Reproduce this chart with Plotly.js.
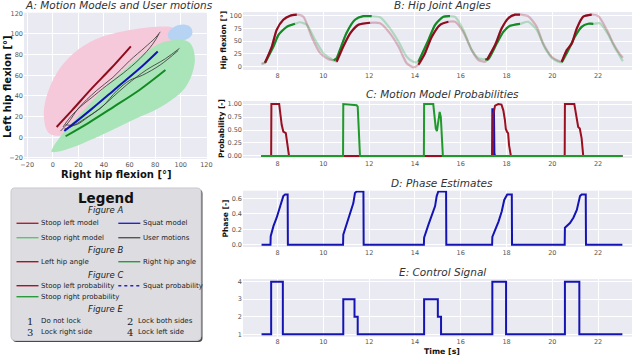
<!DOCTYPE html>
<html>
<head>
<meta charset="utf-8">
<script src="https://cdn.plot.ly/plotly-3.0.1.min.js"></script>
<style>
  html, body { margin: 0; padding: 0; background: #fff; }
  #chart { width: 640px; height: 357px; }
</style>
</head>
<body>
<div id="chart"></div>
<script>
// ---- A: motion model regions and trajectories (right hip on x, left hip on y) ----
const stoopLeftRegionX = [-3, -7, -5, 3, 16, 34, 57, 81, 94, 97, 95, 85, 70, 50, 30, 10, -3];
const stoopLeftRegionY = [4, 20, 39, 62, 81, 95, 103, 107, 106, 101, 95, 80, 60, 35, 15, 2, 4];
const squatRegionX = [90, 95, 103, 108, 109, 105, 98, 91, 90];
const squatRegionY = [100, 107, 109, 106, 100, 95, 93, 95, 100];
const stoopRightRegionX = [-1, 10, 36, 63, 84, 104, 111, 108, 102, 86, 68, 44, 24, 8, 0, -1];
const stoopRightRegionY = [-14, -12, 1, 17, 29, 49, 74, 90, 94, 92, 78, 52, 26, 4, -10, -14];

const stoopLeftModelX = [3, 15, 31, 45, 61];
const stoopLeftModelY = [10, 26, 48, 66, 88];
const squatModelX = [9, 30, 50, 70, 82];
const squatModelY = [6, 27, 48, 69, 83];
const stoopRightModelX = [10, 28, 47, 68, 88];
const stoopRightModelY = [1, 14, 29, 46, 65];

const userMotion1X = [6, 12, 20, 34, 47, 60, 72, 80, 84];
const userMotion1Y = [6, 14, 28, 45, 58, 74, 87, 96, 102];
const userMotion2X = [8, 14, 22, 30, 42, 55, 68, 78, 83];
const userMotion2Y = [10, 20, 30, 38, 50, 62, 76, 90, 100];
const userMotion3X = [9, 14, 25, 37, 47, 58, 73, 88, 99];
const userMotion3Y = [8, 10, 18, 28, 39, 51, 65, 76, 86];
const userMotion4X = [10, 18, 28, 39, 50, 60, 70, 84, 98];
const userMotion4Y = [12, 12, 20, 30, 45, 55, 60, 70, 84];

// ---- B: hip joint angles ----
const leftHipT = [7.30, 7.45, 7.75, 7.96, 8.25, 8.55, 8.84, 9.13, 9.49, 9.86, 10.22, 10.51,
  10.58, 10.87, 11.17, 11.53, 12.04, 12.48, 12.91, 13.28, 13.64, 13.93,
  14.15, 14.44, 14.73, 15.10, 15.46, 15.75, 16.11, 16.48, 16.77, 17.06,
  17.14, 17.50, 17.79, 18.08, 18.37, 18.59, 18.95, 19.32, 19.60, 19.97, 20.26,
  20.41, 20.63, 20.85, 21.07, 21.35, 21.72, 22.01, 22.38, 22.66, 22.95, 23.08];
const leftHipV = [5, 7, 39, 72, 92, 100, 102, 98, 58, 26, 14, 11,
  9, 39, 65, 82, 86, 85, 65, 39, 6, -2,
  3, 26, 58, 82, 88, 88, 68, 32, 12.5, 9,
  12.5, 42, 75, 95, 102, 102, 99, 78, 45, 19, 11,
  9, 32, 45, 75, 98, 102, 99, 72, 45, 24, 17];
const rightHipT = [7.30, 7.45, 7.82, 8.04, 8.40, 8.76, 8.98, 9.28, 9.64, 10.00, 10.29, 10.45,
  10.58, 10.72, 11.00, 11.38, 11.75, 12.11, 12.48, 12.91, 13.28, 13.64, 13.93,
  14.15, 14.59, 14.88, 15.24, 15.53, 15.75, 16.11, 16.48, 16.77, 17.06,
  17.20, 17.57, 17.86, 18.15, 18.59, 18.95, 19.32, 19.68, 20.04, 20.41,
  20.70, 20.99, 21.28, 21.57, 21.79, 22.08, 22.45, 22.74, 23.08];
const rightHipV = [5, 7, 39, 62, 78, 84, 87, 82, 52, 26, 16, 12,
  16, 32, 65, 92, 99, 99, 97, 75, 49, 19, 9,
  9, 52, 82, 98, 99, 98, 72, 32, 16, 14,
  14, 45, 68, 80, 84, 88, 72, 36, 14, 8,
  32, 59, 78, 84, 84, 85, 62, 36, 10];
// rising part of each motion (drawn dark), the rest is faded
const leftRise = [[7.45, 8.84], [10.58, 12.04], [14.15, 15.46], [17.14, 18.59], [20.41, 21.72]];
const rightRise = [[7.45, 8.76], [10.45, 12.11], [14.15, 15.53], [17.06, 18.59], [20.41, 21.79]];

// ---- C: motion model probabilities ----
const stoopLeftProbT = [7.30, 7.72, 7.73, 8.07, 8.18, 8.25, 8.36, 8.40, 8.47, 8.50,
  17.41, 17.42, 17.50, 17.64, 17.78, 17.86, 17.93, 17.97, 18.03, 18.07, 18.11, 18.19,
  20.54, 20.55, 20.96, 21.06, 21.13, 21.20, 21.28, 21.35, 23.06];
const stoopLeftProbV = [0, 0, 1, 1, 0.6, 0.47, 0.44, 0.28, 0.05, 0,
  0, 0.8, 0.97, 1, 0.99, 0.88, 0.69, 0.52, 0.46, 0.44, 0.21, 0,
  0, 1, 1, 0.72, 0.56, 0.53, 0.34, 0, 0];
const stoopRightProbT = [7.30, 10.86, 10.87, 11.45, 11.50, 11.60,
  14.39, 14.40, 14.80, 14.91, 14.96, 15.05, 15.08, 15.13, 15.18, 15.22, 23.06];
const stoopRightProbV = [0, 0, 1, 0.98, 0.95, 0,
  0, 1, 1, 0.53, 0.48, 0.78, 0.85, 0.75, 0.4, 0, 0];
const squatProbT = [7.30, 17.37, 17.38, 17.45, 17.47, 17.50, 23.06];
const squatProbV = [0, 0, 0.9, 0.9, 0.05, 0, 0];

// ---- D: phase estimates ----
const phaseT = [7.30, 7.69, 7.70, 7.82, 7.96, 8.11, 8.25, 8.33, 8.44, 8.45,
  10.86, 10.87, 11.02, 11.16, 11.31, 11.38, 11.45, 11.75, 11.76,
  14.39, 14.40, 14.59, 14.73, 14.88, 14.95, 15.02, 15.36, 15.37,
  17.37, 17.38, 17.50, 17.65, 17.79, 17.90, 18.03, 18.23, 18.24,
  20.54, 20.55, 20.77, 20.92, 21.07, 21.21, 21.28, 21.46, 21.47, 23.06];
const phaseV = [0, 0, 0.11, 0.24, 0.35, 0.48, 0.63, 0.65, 0.65, 0,
  0, 0.13, 0.28, 0.41, 0.54, 0.67, 0.69, 0.69, 0,
  0, 0.09, 0.26, 0.39, 0.5, 0.63, 0.69, 0.69, 0,
  0, 0.1, 0.19, 0.3, 0.43, 0.58, 0.65, 0.65, 0,
  0, 0.22, 0.28, 0.35, 0.45, 0.63, 0.65, 0.65, 0, 0];

// ---- E: control signal ----
const controlT = [7.30, 7.72, 8.23, 10.87, 11.36, 11.50, 14.40, 15.00, 15.14, 17.38, 17.98, 20.55, 21.18, 23.06];
const controlV = [1, 4, 1, 3, 2, 1, 3, 2, 1, 4, 1, 4, 1, 1];

// ---- legend text ----
const legendSections = ['Figure A', 'Figure B', 'Figure C', 'Figure E'];
const lockModes = ['Do not lock', 'Lock both sides', 'Lock right side', 'Lock left side'];

const W = 640, H = 357;
const px = (x) => x / W;
const py = (y) => 1 - y / H;

const darkRed = '#8e0c1e';
const darkGreen = '#138a24';
const fadedRed = 'rgba(165,35,65,0.3)';
const fadedGreen = 'rgba(40,170,70,0.3)';
const blue = '#1414b4';

function joinLines(list) {
  const xs = [], ys = [];
  list.forEach(([lx, ly], k) => {
    if (k > 0) { xs.push(null); ys.push(null); }
    xs.push(...lx); ys.push(...ly);
  });
  return { x: xs, y: ys };
}

function pickWindows(t, v, windows) {
  const xs = [], ys = [];
  windows.forEach(([a, b], k) => {
    if (k > 0) { xs.push(null); ys.push(null); }
    t.forEach((ti, i) => {
      if (ti >= a - 1e-9 && ti <= b + 1e-9) { xs.push(ti); ys.push(v[i]); }
    });
  });
  return { x: xs, y: ys };
}

const users = joinLines([[userMotion1X, userMotion1Y], [userMotion2X, userMotion2Y],
  [userMotion3X, userMotion3Y], [userMotion4X, userMotion4Y]]);
const leftDark = pickWindows(leftHipT, leftHipV, leftRise);
const rightDark = pickWindows(rightHipT, rightHipV, rightRise);

const region = (x, y, color) => ({
  type: 'scatter', x, y, mode: 'lines', fill: 'toself', fillcolor: color,
  line: { width: 0, shape: 'spline', smoothing: 1 }, xaxis: 'x', yaxis: 'y', hoverinfo: 'skip'
});
const line = (x, y, color, width, ax, extra) => Object.assign({
  type: 'scatter', x, y, mode: 'lines', line: { color, width },
  xaxis: 'x' + ax, yaxis: 'y' + ax, connectgaps: false
}, extra || {});

const data = [
  region(stoopLeftRegionX, stoopLeftRegionY, '#f5c9d9'),
  region(squatRegionX, squatRegionY, '#b6d3f4'),
  region(stoopRightRegionX, stoopRightRegionY, '#a9e5b8'),
  { type: 'scatter', x: users.x, y: users.y, mode: 'lines', xaxis: 'x', yaxis: 'y',
    line: { color: 'rgba(60,60,60,0.85)', width: 1, shape: 'spline' } },
  { type: 'scatter', x: stoopLeftModelX, y: stoopLeftModelY, mode: 'lines', xaxis: 'x', yaxis: 'y',
    line: { color: darkRed, width: 2, shape: 'spline' } },
  { type: 'scatter', x: squatModelX, y: squatModelY, mode: 'lines', xaxis: 'x', yaxis: 'y',
    line: { color: blue, width: 2, shape: 'spline' } },
  { type: 'scatter', x: stoopRightModelX, y: stoopRightModelY, mode: 'lines', xaxis: 'x', yaxis: 'y',
    line: { color: darkGreen, width: 2, shape: 'spline' } },

  line(leftHipT, leftHipV, fadedRed, 2.2, 2, { line: { color: fadedRed, width: 2.2, shape: 'spline', smoothing: 0.6 } }),
  line(rightHipT, rightHipV, fadedGreen, 2.2, 2, { line: { color: fadedGreen, width: 2.2, shape: 'spline', smoothing: 0.6 } }),
  line(rightDark.x, rightDark.y, darkGreen, 2.2, 2, { line: { color: darkGreen, width: 2.2, shape: 'spline', smoothing: 0.6 } }),
  line(leftDark.x, leftDark.y, darkRed, 2.2, 2, { line: { color: darkRed, width: 2.2, shape: 'spline', smoothing: 0.6 } }),

  line(squatProbT, squatProbV, blue, 2, 3),
  line(stoopLeftProbT, stoopLeftProbV, '#9a1020', 2, 3),
  line(stoopRightProbT, stoopRightProbV, '#1f9a2a', 2, 3),

  line(phaseT, phaseV, blue, 2, 4),

  line(controlT, controlV, blue, 2, 5, { line: { color: blue, width: 2, shape: 'hv' } })
];

const tickFont = { family: 'DejaVu Sans', size: 6.5, color: '#555' };
function axis(domain, range, extra) {
  return Object.assign({
    domain, range, showgrid: true, gridcolor: '#ffffff', gridwidth: 1,
    zeroline: false, showline: false, ticks: '', tickfont: tickFont, fixedrange: true
  }, extra);
}
const rightDom = [px(243), px(632)];
const timeAxis = (anchor) => axis(rightDom, [6.49, 23.48], { anchor, tick0: 0, dtick: 2 });

const layout = {
  width: W, height: H,
  margin: { l: 0, r: 0, t: 0, b: 0 },
  paper_bgcolor: '#ffffff', plot_bgcolor: '#eaeaf2',
  showlegend: false,
  font: { family: 'DejaVu Sans', color: '#333' },
  xaxis: axis([px(24), px(207)], [-22.5, 120.5], { anchor: 'y', tick0: -20, dtick: 20 }),
  yaxis: axis([py(159), py(12.7)], [-21, 120.5], { anchor: 'x', tick0: -20, dtick: 20 }),
  xaxis2: timeAxis('y2'),
  yaxis2: axis([py(70), py(12)], [-7.3, 107.3], { anchor: 'x2', tickvals: [0, 25, 50, 75, 100] }),
  xaxis3: timeAxis('y3'),
  yaxis3: axis([py(158), py(101)], [-0.04, 1.06], { anchor: 'x3', tickvals: [0, 0.25, 0.5, 0.75, 1], tickformat: '.2f' }),
  xaxis4: timeAxis('y4'),
  yaxis4: axis([py(247), py(190.7)], [-0.03, 0.70], { anchor: 'x4', tickvals: [0, 0.2, 0.4, 0.6], tickformat: '.1f' }),
  xaxis5: timeAxis('y5'),
  yaxis5: axis([py(336.7), py(279)], [0.86, 4.15], { anchor: 'x5', tickvals: [1, 2, 3, 4] }),
  shapes: [],
  annotations: []
};

const ann = (text, x, y, opts) => Object.assign({
  text, x: px(x), y: py(y), xref: 'paper', yref: 'paper', showarrow: false,
  xanchor: 'center', yanchor: 'middle', font: { family: 'DejaVu Sans', size: 7, color: '#222' }
}, opts || {});

const titleFont = { family: 'DejaVu Sans', size: 10.5, color: '#333', style: 'italic' };
const boldFont = (size) => ({ family: 'DejaVu Sans', size, color: '#111', weight: 'bold' });

layout.annotations.push(
  ann('A: Motion Models and User motions', 119, 5.5, { font: titleFont }),
  ann('B: Hip Joint Angles', 442, 5, { font: titleFont }),
  ann('C: Motion Model Probabilities', 442, 94.3, { font: titleFont }),
  ann('D: Phase Estimates', 442, 183.3, { font: titleFont }),
  ann('E: Control Signal', 442, 271.7, { font: titleFont }),
  ann('Left hip flexion [°]', 7, 87, { textangle: -90, font: boldFont(10) }),
  ann('Right hip flexion [°]', 116, 174, { font: boldFont(10) }),
  ann('Hip flexion [°]', 222.5, 40, { textangle: -90, font: boldFont(7.5) }),
  ann('Probability [-]', 221.5, 128.5, { textangle: -90, font: boldFont(7.5) }),
  ann('Phase [-]', 224.5, 219, { textangle: -90, font: boldFont(7.5) }),
  ann('Time [s]', 442, 351.5, { font: boldFont(7.8) })
);

// ---- legend panel ----
function roundRect(x0, y0, x1, y1, r) {
  const X = (v) => px(v).toFixed(5), Y = (v) => py(v).toFixed(5);
  return `M ${X(x0 + r)},${Y(y0)} L ${X(x1 - r)},${Y(y0)} Q ${X(x1)},${Y(y0)} ${X(x1)},${Y(y0 + r)} ` +
    `L ${X(x1)},${Y(y1 - r)} Q ${X(x1)},${Y(y1)} ${X(x1 - r)},${Y(y1)} L ${X(x0 + r)},${Y(y1)} ` +
    `Q ${X(x0)},${Y(y1)} ${X(x0)},${Y(y1 - r)} L ${X(x0)},${Y(y0 + r)} Q ${X(x0)},${Y(y0)} ${X(x0 + r)},${Y(y0)} Z`;
}
layout.shapes.push(
  { type: 'path', xref: 'paper', yref: 'paper', path: roundRect(12.5, 189.5, 202.5, 342, 4), fillcolor: '#4a4a4a', line: { width: 0 } },
  { type: 'path', xref: 'paper', yref: 'paper', path: roundRect(11, 188, 201, 340.5, 4), fillcolor: '#dcdce1', line: { color: '#c9c9cf', width: 1 } }
);

const legendRows = [
  { y: 223.3, left: ['Stoop left model', '#b0202e', 'solid'], right: ['Squat model', '#2424c8', 'solid'] },
  { y: 237.7, left: ['Stoop right model', '#5cc46a', 'solid'], right: ['User motions', '#555555', 'solid'] },
  { y: 261.7, left: ['Left hip angle', '#a01828', 'solid'], right: ['Right hip angle', '#2a9a3a', 'solid'] },
  { y: 285.7, left: ['Stoop left probability', '#a01828', 'solid'], right: ['Squat probability', '#2626c0', 'dot'] },
  { y: 296.7, left: ['Stoop right probability', '#2a9a3a', 'solid'] }
];
legendRows.forEach((row) => {
  [[row.left, 16.5], [row.right, 118.3]].forEach(([item, x0]) => {
    if (!item) return;
    layout.shapes.push({ type: 'line', xref: 'paper', yref: 'paper',
      x0: px(x0), x1: px(x0 + 22), y0: py(row.y), y1: py(row.y),
      line: { color: item[1], width: 1.4, dash: item[2] } });
    layout.annotations.push(ann(item[0], x0 + 22.3, row.y, { xanchor: 'left' }));
  });
});
layout.annotations.push(ann('Legend', 106, 198, { font: boldFont(13.5) }));
const sectionY = [210, 250, 274.5, 309];
legendSections.forEach((s, i) => {
  layout.annotations.push(ann(s, 105, sectionY[i], { font: { family: 'DejaVu Sans', size: 8.5, color: '#222', style: 'italic' } }));
});
const lockPos = [[30, 39, 321], [130, 136, 321], [30, 39, 332], [130, 136, 332]];
lockModes.forEach((m, i) => {
  const [nx, tx, y] = lockPos[i];
  layout.annotations.push(ann(String(i + 1), nx, y, { font: { family: 'DejaVu Serif', size: 10, color: '#222' } }));
  layout.annotations.push(ann(m, tx, y, { xanchor: 'left' }));
});

Plotly.newPlot('chart', data, layout, { displayModeBar: false, staticPlot: true });
</script>
</body>
</html>
